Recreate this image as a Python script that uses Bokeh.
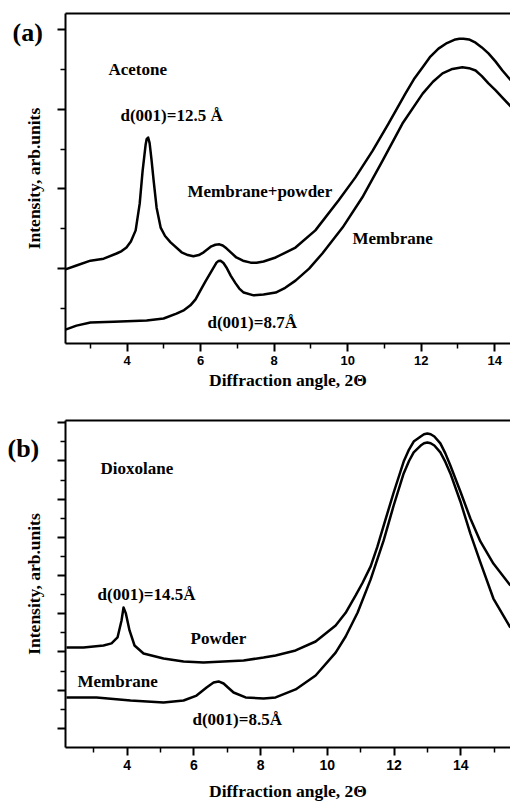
import math
from bokeh.plotting import figure
from bokeh.models import Label, LinearAxis, FixedTicker, Range1d
from bokeh.layouts import column
from bokeh.embed import file_html
from bokeh.resources import INLINE

# ---------------- Panel (a): Acetone ----------------
a_mp_x = [2.32, 2.62, 3.00, 3.36, 3.71, 3.85, 3.98, 4.10, 4.23, 4.34, 4.42, 4.50, 4.53,
          4.57, 4.61, 4.66, 4.72, 4.80, 4.91, 5.03, 5.18, 5.48, 5.65, 5.80, 5.95, 6.08,
          6.29, 6.40, 6.51, 6.60, 6.70, 6.97, 7.15, 7.36, 7.52, 7.71, 8.04, 8.58, 9.12,
          9.75, 10.21, 10.68, 11.11, 11.57, 11.80, 12.04, 12.25, 12.47, 12.70, 12.93,
          13.04, 13.15, 13.30, 13.48, 13.65, 13.83, 14.02, 14.21, 14.49]
a_mp_y = [0.98, 1.08, 1.20, 1.25, 1.38, 1.44, 1.53, 1.68, 1.96, 2.63, 3.46, 4.10, 4.25,
          4.29, 4.15, 3.75, 3.20, 2.53, 2.03, 1.82, 1.66, 1.41, 1.34, 1.31, 1.34, 1.41,
          1.56, 1.60, 1.61, 1.58, 1.51, 1.28, 1.20, 1.15, 1.15, 1.18, 1.28, 1.53, 1.96,
          2.71, 3.29, 3.96, 4.64, 5.39, 5.75, 6.05, 6.32, 6.52, 6.66, 6.75,
          6.77, 6.77, 6.75, 6.67, 6.55, 6.40, 6.20, 5.97, 5.67]

a_m_x = [2.32, 2.62, 3.00, 3.63, 4.53, 4.99, 5.34, 5.55, 5.72, 5.86, 5.99, 6.13, 6.27,
         6.43, 6.48, 6.54, 6.62, 6.70, 6.82, 6.95, 7.05, 7.17, 7.44, 7.71, 8.04, 8.30,
         8.58, 8.95, 9.31, 9.86, 10.40, 10.95, 11.49, 12.04, 12.32, 12.58, 12.85, 13.12,
         13.30, 13.48, 13.65, 13.83, 14.02, 14.21, 14.49]
a_m_y = [-0.53, -0.43, -0.35, -0.33, -0.30, -0.25, -0.13, -0.04, 0.08, 0.23, 0.45, 0.68,
         0.90, 1.15, 1.19, 1.20, 1.14, 1.03, 0.82, 0.63, 0.50, 0.40, 0.33, 0.35, 0.40,
         0.52, 0.70, 1.00, 1.38, 2.03, 2.79, 3.71, 4.64, 5.39, 5.69, 5.90, 6.01, 6.05,
         6.03, 5.97, 5.83, 5.65, 5.48, 5.29, 5.02]

# ---------------- Panel (b): Dioxolane ----------------
b_p_x = [2.18, 2.69, 3.29, 3.53, 3.71, 3.83, 3.89, 3.96, 4.07, 4.22, 4.49, 5.09, 5.69,
         6.29, 6.89, 7.49, 8.09, 8.45, 9.05, 9.65, 10.25, 10.55, 10.85, 11.05, 11.30,
         11.50, 11.69, 11.99, 12.29, 12.45, 12.59, 12.80, 12.90, 13.00, 13.10, 13.21,
         13.39, 13.54, 13.69, 13.99, 14.29, 14.59, 14.98, 15.49]
b_p_y = [5.24, 5.24, 5.34, 5.45, 5.76, 6.65, 7.33, 7.02, 6.13, 5.34, 4.92, 4.66, 4.50,
         4.45, 4.50, 4.56, 4.71, 4.82, 5.08, 5.55, 6.39, 7.05, 7.96, 8.60, 9.48,
         10.50, 11.62, 13.35, 14.97, 15.60, 16.02, 16.28, 16.40, 16.44, 16.40, 16.28,
         15.92, 15.40, 14.76, 13.40, 11.99, 10.79, 9.63, 8.48]

b_m_x = [2.18, 3.08, 4.10, 5.09, 5.69, 6.08, 6.38, 6.59, 6.74, 6.89, 7.03, 7.19, 7.55,
         8.09, 8.45, 9.05, 9.65, 10.25, 10.55, 10.91, 11.30, 11.69, 11.99, 12.29, 12.45,
         12.59, 12.80, 12.90, 13.00, 13.10, 13.21, 13.39, 13.54, 13.69, 13.99, 14.29,
         14.59, 14.98, 15.49]
b_m_y = [2.62, 2.62, 2.46, 2.36, 2.46, 2.72, 3.14, 3.40, 3.46, 3.35, 3.13, 2.88, 2.62,
         2.57, 2.62, 3.04, 3.77, 4.97, 5.81, 7.07, 8.80, 10.84, 12.67, 14.35, 15.00,
         15.45, 15.81, 15.93, 15.97, 15.93, 15.81, 15.45, 14.95, 14.35, 12.88, 11.20,
         9.69, 7.80, 6.28]

x_major = [4, 6, 8, 10, 12, 14]
x_minor = [3, 5, 7, 9, 11, 13, 15]
a_y_major = [1, 3, 5, 7]
a_y_minor = [0, 2, 4, 6]
b_y_major = [1, 3, 5, 7, 9, 11, 13, 15, 17]
b_y_minor = [2, 4, 6, 8, 10, 12, 14, 16]

x_title = "Diffraction angle, 2\u0398"
y_title = "Intensity, arb.units"

SERIF = "Liberation Serif"
SANS = "Liberation Sans"

W = 510
LEFT_PX = 65  # pixel position of the left axis line


def make_panel(height, x_lo, x_hi, y_lo, y_hi, top_px, bottom_px, ymaj, ymin,
               tick_size, xtitle_px):
    # frame covers the whole canvas; axes are pinned at fixed data locations
    xppu = (W - LEFT_PX) / (x_hi - x_lo)
    yppu = (bottom_px - top_px) / (y_hi - y_lo)
    x_start = x_lo - LEFT_PX / xppu
    y_start = y_lo - (height - bottom_px) / yppu
    y_end = y_hi + top_px / yppu
    p = figure(width=W, height=height, output_backend="svg", toolbar_location=None,
               x_range=Range1d(x_start, x_hi), y_range=Range1d(y_start, y_end),
               x_axis_location=None, y_axis_location=None,
               min_border_left=0, min_border_right=0,
               min_border_top=0, min_border_bottom=0)
    p.outline_line_color = None
    p.grid.visible = False
    p.background_fill_color = "white"
    p.border_fill_color = "white"

    xa = LinearAxis(fixed_location=y_lo, bounds=(x_lo, x_hi),
                    ticker=FixedTicker(ticks=x_major, minor_ticks=x_minor))
    ya = LinearAxis(fixed_location=x_lo, bounds=(y_lo, y_hi),
                    ticker=FixedTicker(ticks=ymaj, minor_ticks=ymin),
                    major_label_overrides={t: "" for t in ymaj},
                    major_label_text_font_size="0px", major_label_standoff=0)
    for ax in (xa, ya):
        ax.axis_line_width = 2
        ax.axis_line_color = "black"
        ax.major_tick_line_width = 2
        ax.minor_tick_line_width = 1.5
        ax.major_tick_line_color = "black"
        ax.minor_tick_line_color = "black"
        ax.major_tick_in = 0
        ax.minor_tick_in = 0
        ax.major_tick_out = 8
        ax.minor_tick_out = 5
    xa.major_label_text_font = SANS
    xa.major_label_text_font_style = "bold"
    xa.major_label_text_font_size = tick_size
    xa.major_label_text_color = "black"
    xa.major_label_standoff = 4
    p.add_layout(xa, "below")
    p.add_layout(ya, "left")

    top = LinearAxis(fixed_location=y_hi, bounds=(x_lo, x_hi),
                     ticker=FixedTicker(ticks=[]), axis_line_width=2,
                     axis_line_color="black", major_tick_line_color=None,
                     minor_tick_line_color=None, major_label_text_font_size="0px")
    p.add_layout(top, "above")

    # axis titles
    p.add_layout(Label(x=x_lo - 32 / xppu, y=(y_lo + y_hi) / 2, text=y_title,
                       angle=math.pi / 2, text_font=SERIF, text_font_style="bold",
                       text_font_size="17.5px", text_color="black",
                       text_align="center", text_baseline="middle"))
    p.add_layout(Label(x=(x_lo + x_hi) / 2, y=y_lo - (xtitle_px - bottom_px) / yppu,
                       text=x_title, text_font=SERIF, text_font_style="bold",
                       text_font_size="17.5px", text_color="black",
                       text_align="center", text_baseline="middle"))
    return p


def add_label(p, x, y, text, size="17px"):
    p.add_layout(Label(x=x, y=y, text=text, text_font=SERIF, text_font_style="bold",
                       text_font_size=size, text_color="black", text_align="left",
                       text_baseline="middle"))


# Panel (a): canvas rows 0..400, axis box 13..343 px
pa = make_panel(400, 2.321, 14.43, -0.878, 7.401, 13, 343, a_y_major, a_y_minor,
                "13px", 379)
pa.line(a_mp_x, a_mp_y, line_width=2.5, line_color="black", line_join="round")
pa.line(a_m_x, a_m_y, line_width=2.5, line_color="black", line_join="round")
add_label(pa, 0.879, 6.924, "(a)", "26px")
add_label(pa, 3.49, 5.996, "Acetone")
add_label(pa, 3.817, 4.842, "d(001)=12.5 \u00c5")
add_label(pa, 5.64, 2.935, "Membrane+powder")
add_label(pa, 10.13, 1.756, "Membrane")
add_label(pa, 6.184, -0.351, "d(001)=8.7\u00c5")

# Panel (b): canvas rows 400..806, axis box 420..747 px (20..347 local)
pb = make_panel(406, 2.150, 15.493, 0.0, 17.12, 20, 347, b_y_major, b_y_minor,
                "14px", 390)
pb.line(b_p_x, b_p_y, line_width=2.5, line_color="black", line_join="round")
pb.line(b_m_x, b_m_y, line_width=2.5, line_color="black", line_join="round")
add_label(pb, 0.411, 15.654, "(b)", "26px")
add_label(pb, 3.199, 14.607, "Dioxolane")
add_label(pb, 3.110, 8.010, "d(001)=14.5\u00c5")
add_label(pb, 5.898, 5.707, "Powder")
add_label(pb, 2.510, 3.455, "Membrane")
add_label(pb, 5.958, 1.466, "d(001)=8.5\u00c5")

layout = column(pa, pb, spacing=0)
open("out.html", "w").write(file_html(layout, INLINE))
